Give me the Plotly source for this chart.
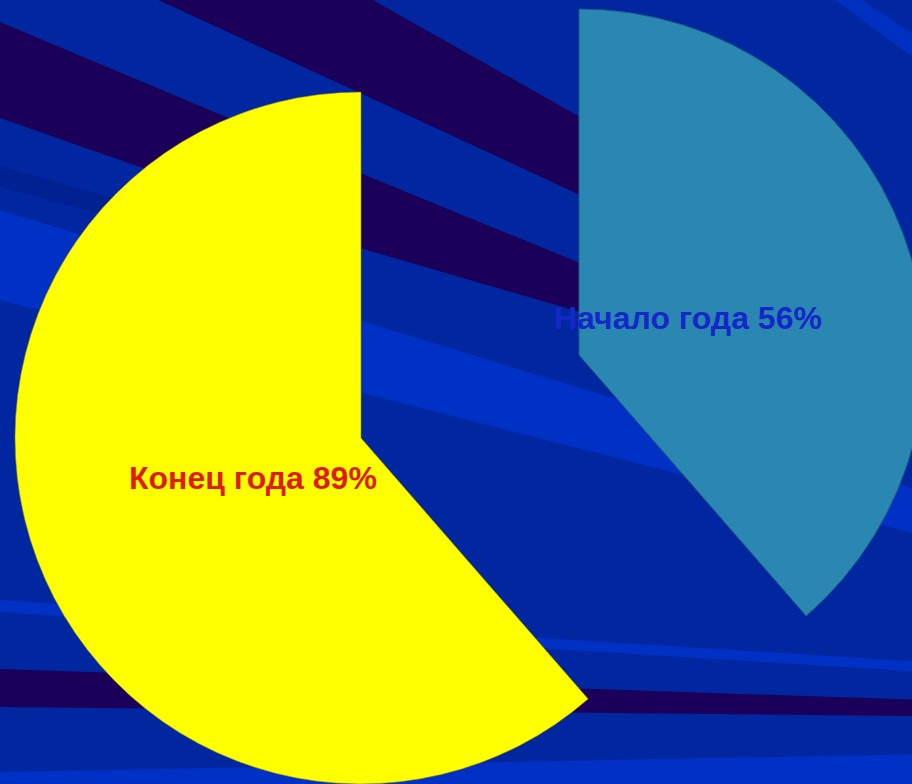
import plotly.graph_objects as go

W, H = 925, 784

# data
labels = ["Конец года 89%", "Начало года 56%"]
shares = [61.4, 38.6]              # visible sector size, % of the full circle
slice_colors = ["#FFFF00", "#2A87B1"]
label_colors = ["#DC1E0A", "#1428C8"]

BASE = "#0027A0"
LIGHT = "#0030C4"
DARK = "#1B0059"
CLEAR = "rgba(0,0,0,0)"


def band(points, color):
    # polygon given in screen pixels -> paper coordinates
    d = "M " + " L ".join(f"{x / W:.4f},{1 - y / H:.4f}" for x, y in points) + " Z"
    return dict(type="path", xref="paper", yref="paper", path=d,
                fillcolor=color, line_width=0, layer="below")


shapes = [
    # lighter wide band across the middle
    band([(0, 210), (580, 388), (925, 492), (925, 536), (683, 475), (0, 300)], LIGHT),
    # thin darker streak on the left
    band([(0, 166), (200, 222), (200, 240), (0, 187)], "#00218F"),
    # thin light streak lower down
    band([(0, 600), (540, 638), (925, 662), (925, 672), (540, 648), (0, 612)], LIGHT),
    # bottom light strip
    band([(0, 772), (925, 754), (925, 784), (0, 784)], LIGHT),
    # light streak in the top right corner
    band([(835, 0), (862, 0), (925, 42), (925, 66)], "#0030C0"),
    # dark stripes
    band([(158, 0), (373, 0), (580, 117), (925, 312), (925, 360), (580, 195), (360, 93)], DARK),
    band([(0, 22), (360, 173), (580, 263), (925, 402), (925, 412), (580, 312),
          (360, 248), (140, 167), (0, 118)], DARK),
    band([(0, 669), (925, 700), (925, 716), (0, 707)], DARK),
]

fig = go.Figure()

# yellow sector: the part of the circle after the teal share (clockwise from 12 o'clock)
fig.add_trace(go.Pie(
    values=[shares[1], shares[0]],
    labels=["a", "b"],
    sort=False,
    direction="clockwise",
    rotation=0,
    textinfo="none",
    hoverinfo="skip",
    showlegend=False,
    marker=dict(colors=[CLEAR, slice_colors[0]],
                line=dict(color="#8A8A20", width=[0, 0.6])),
    domain=dict(x=[15 / W, 707 / W], y=[0, 1 - 92 / H]),
))

# teal sector (clockwise from 12 o'clock)
fig.add_trace(go.Pie(
    values=[shares[1], shares[0]],
    labels=["c", "d"],
    sort=False,
    direction="clockwise",
    rotation=0,
    textinfo="none",
    hoverinfo="skip",
    showlegend=False,
    marker=dict(colors=[slice_colors[1], CLEAR],
                line=dict(color="#1D5E86", width=[1, 0])),
    domain=dict(x=[233 / W, 1], y=[1 - 701 / H, 1 - 9 / H]),
))

label_pos = [(253, 478), (688, 318)]
annotations = []
for text, color, (lx, ly) in zip(labels, label_colors, label_pos):
    annotations.append(dict(
        x=lx / W, y=1 - ly / H, xref="paper", yref="paper",
        text=text, showarrow=False, xanchor="center", yanchor="middle",
        font=dict(family="Liberation Sans, Arial, sans-serif", size=32,
                  color=color, weight="bold"),
    ))

fig.update_layout(
    width=W,
    height=H,
    margin=dict(l=0, r=0, t=0, b=0),
    paper_bgcolor=BASE,
    plot_bgcolor=BASE,
    shapes=shapes,
    annotations=annotations,
)

# full-bleed page like the slide: no body margin, no scrollbars, no modebar
fig.write_html(
    "out.html",
    config={"displayModeBar": False},
    post_script="document.body.style.margin='0';document.body.style.overflow='hidden';",
)
